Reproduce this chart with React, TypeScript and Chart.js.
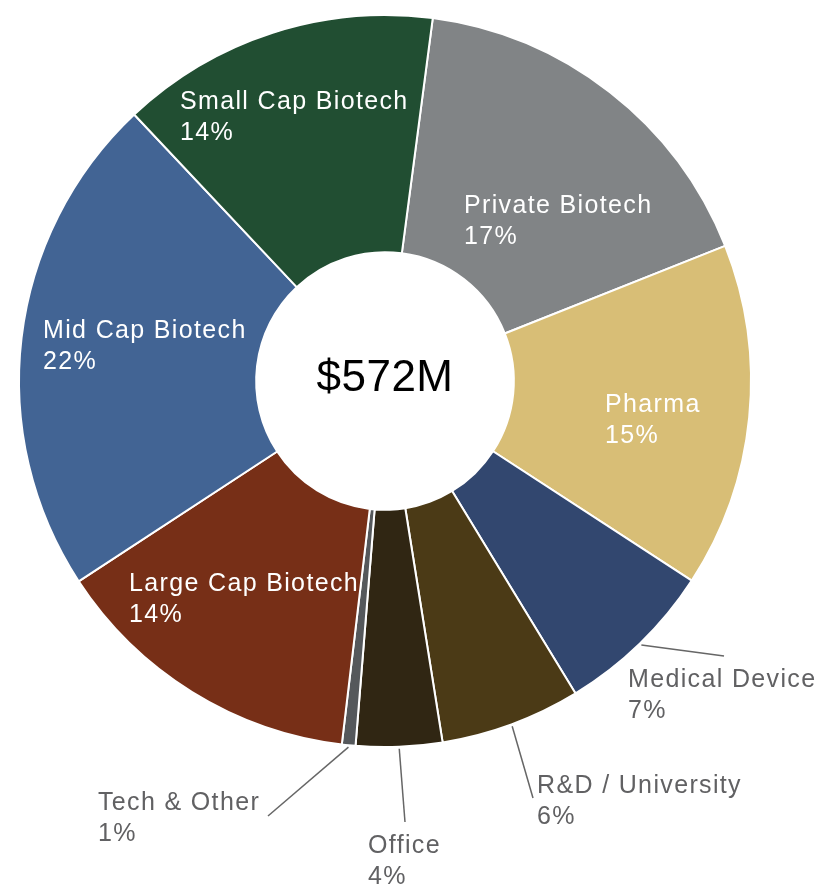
import React, { useEffect, useRef } from "react";
import { Chart, registerables } from "chart.js";

Chart.register(...registerables);

const categories = [
  "Private Biotech",
  "Pharma",
  "Medical Device",
  "R&D / University",
  "Office",
  "Tech & Other",
  "Large Cap Biotech",
  "Mid Cap Biotech",
  "Small Cap Biotech",
];
const values = [16.9, 15.2, 7.1, 6.2, 3.8, 0.6, 13.9, 22.2, 14.1];
const percentLabels = ["17%", "15%", "7%", "6%", "4%", "1%", "14%", "22%", "14%"];
const centerText = "$572M";

const colors = [
  "#818486",
  "#D8BE76",
  "#32476F",
  "#4B3A16",
  "#302613",
  "#55585B",
  "#772F17",
  "#426494",
  "#214E32",
];

// label placement, in px at the reference radius, relative to the doughnut centre
// [textLeftX, firstBaselineY, outside, leaderEndX, leaderEndY]
const REF_R = 366;
const labelPlacement: Array<[number, number, boolean, number, number]> = [
  [79, -168, false, 0, 0],
  [220, 31, false, 0, 0],
  [243, 306, true, 339, 275],
  [152, 412, true, 148, 417],
  [-17, 472, true, 20, 441],
  [-287, 429, true, -117, 435],
  [-256, 210, false, 0, 0],
  [-342, -43, false, 0, 0],
  [-205, -272, false, 0, 0],
];

const labelPlugin = {
  id: "labelPlugin",
  afterDraw(chart: any) {
    const ctx = chart.ctx as CanvasRenderingContext2D;
    const meta = chart.getDatasetMeta(0);
    const arcs = meta.data;
    if (!arcs.length) return;
    const cx = arcs[0].x;
    const cy = arcs[0].y;
    const R = arcs[0].outerRadius;
    const k = R / REF_R;
    ctx.save();
    ctx.font = "44px 'Liberation Sans', Arial, sans-serif";
    (ctx as any).letterSpacing = "0.5px";
    ctx.fillStyle = "#000000";
    ctx.textAlign = "center";
    ctx.textBaseline = "alphabetic";
    ctx.fillText(centerText, cx, cy + 10 * k);

    ctx.font = "25px 'Liberation Sans', Arial, sans-serif";
    (ctx as any).letterSpacing = "1.35px";
    ctx.textAlign = "left";
    arcs.forEach((arc: any, i: number) => {
      const [lx, ly, outside, ex, ey] = labelPlacement[i];
      const x = cx + lx * k;
      const y = cy + ly * k;
      if (outside) {
        const mid = (arc.startAngle + arc.endAngle) / 2;
        const sx = cx + Math.cos(mid) * (arc.outerRadius + 2);
        const sy = cy + Math.sin(mid) * (arc.outerRadius + 2);
        ctx.strokeStyle = "#666666";
        ctx.lineWidth = 1.5;
        ctx.beginPath();
        ctx.moveTo(sx, sy);
        ctx.lineTo(cx + ex * k, cy + ey * k);
        ctx.stroke();
        ctx.fillStyle = "#616163";
      } else {
        ctx.fillStyle = "#FFFFFF";
      }
      ctx.fillText(categories[i], x, y);
      ctx.fillText(percentLabels[i], x, y + 31 * k);
    });
    ctx.restore();
  },
};

export default function App() {
  const canvasRef = useRef<HTMLCanvasElement | null>(null);

  useEffect(() => {
    if (!canvasRef.current) return;
    const chart = new Chart(canvasRef.current, {
      type: "doughnut",
      data: {
        labels: categories,
        datasets: [
          {
            data: values,
            backgroundColor: colors,
            borderColor: "#FFFFFF",
            borderWidth: 2,
            hoverBorderWidth: 2,
            hoverOffset: 0,
            offset: 0,
          },
        ],
      },
      options: {
        animation: false,
        responsive: false,
        maintainAspectRatio: false,
        rotation: 7.5,
        cutout: "35.2%",
        layout: { padding: { left: 18, top: 14, right: 67, bottom: 136 } },
        plugins: {
          legend: { display: false },
          tooltip: { enabled: false },
        },
        events: [],
      },
      plugins: [labelPlugin],
    });
    return () => chart.destroy();
  }, []);

  return (
    <div style={{ position: "absolute", left: 0, top: 0, width: 819, height: 884, background: "#fff" }}>
      <canvas ref={canvasRef} width={819} height={884} style={{ width: 819, height: 884, display: "block" }} />
    </div>
  );
}
